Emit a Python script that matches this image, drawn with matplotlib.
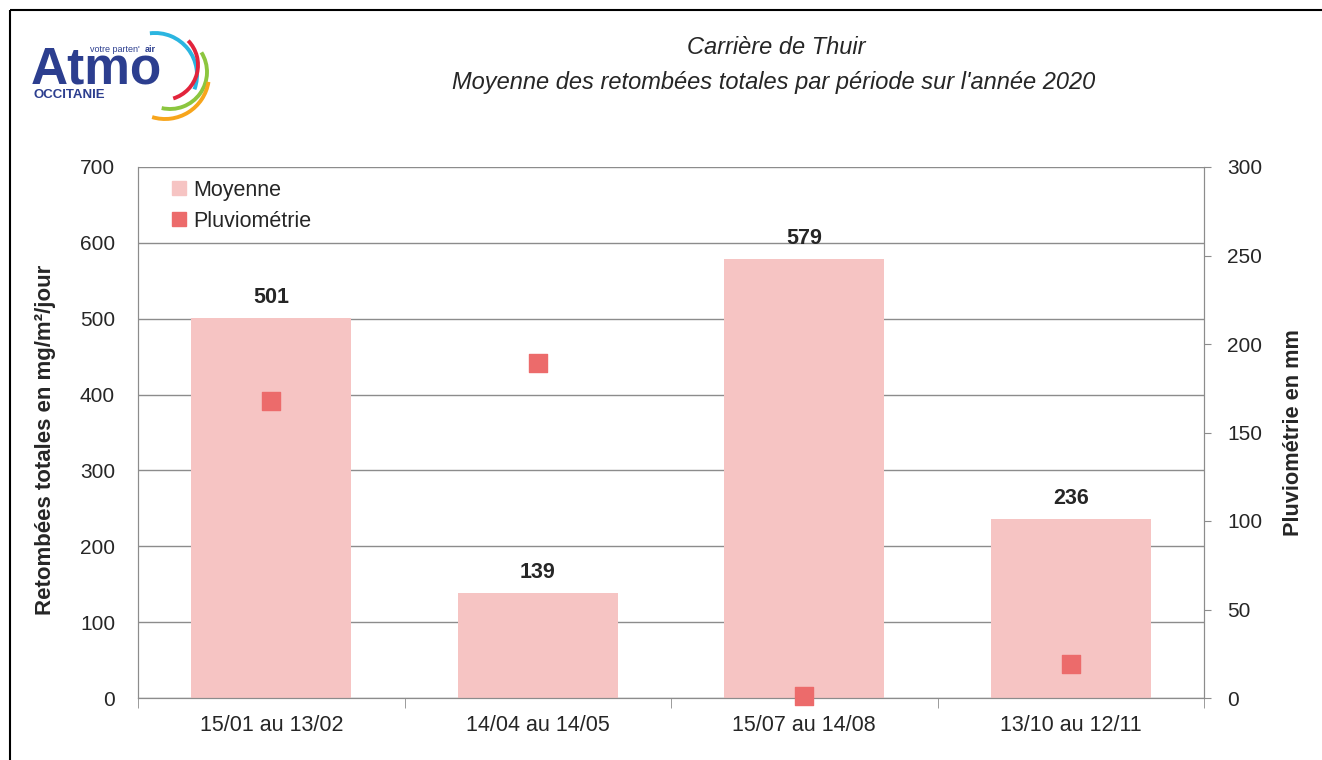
import matplotlib.pyplot as plt
from matplotlib.patches import Arc, Rectangle
from matplotlib.lines import Line2D
import numpy as np

periodes = ["15/01 au 13/02", "14/04 au 14/05", "15/07 au 14/08", "13/10 au 12/11"]
moyenne = [501, 139, 579, 236]
pluvio = [168, 189, 1, 19]

bar_color = "#f6c4c3"
pt_color = "#ec6b6b"
grid_color = "#8c8c8c"
txt = "#262626"

plt.rcParams['font.family'] = ['Liberation Sans', 'DejaVu Sans']

fig = plt.figure(figsize=(13.22, 7.6), dpi=100)
ax = fig.add_axes([138 / 1322, 1 - 698 / 760, (1204 - 138) / 1322, (698 - 167) / 760])
ax2 = ax.twinx()

x = np.arange(len(periodes))
ax.bar(x, moyenne, width=0.6, color=bar_color, zorder=2)
for xi, v in zip(x, moyenne):
    ax.text(xi, v + 13, str(v), ha="center", va="bottom", fontsize=15.5,
            fontweight="bold", color=txt)

ax2.scatter(x, pluvio, marker="s", s=150, color=pt_color, zorder=3, clip_on=False)

ax.set_xlim(-0.5, len(periodes) - 0.5)
ax.set_ylim(0, 700)
ax.set_yticks(range(0, 701, 100))
ax2.set_ylim(0, 300)
ax2.set_yticks(range(0, 301, 50))

ax.yaxis.grid(True, color=grid_color, linewidth=1)
ax.set_axisbelow(True)
ax.set_xticks(x)
ax.set_xticklabels(periodes)
ax.set_xticks(np.arange(-0.5, len(periodes)), minor=True)
ax.tick_params(axis="x", which="major", length=0, pad=12, labelsize=15.5, labelcolor=txt)
ax.tick_params(axis="x", which="minor", length=7, color=grid_color, direction="out")
ax.tick_params(axis="y", length=0, pad=16.5, labelsize=15, labelcolor=txt)
ax2.tick_params(axis="y", length=5, color=grid_color, pad=11.5, labelsize=15, labelcolor=txt)

for a in (ax, ax2):
    a.spines["top"].set_visible(False)
    for s in ("left", "right", "bottom"):
        a.spines[s].set_color(grid_color)

ax.set_ylabel("Retombées totales en mg/m²/jour", fontsize=16, fontweight="bold",
              color=txt, labelpad=17)
ax.yaxis.label.set_y(0.486)
ax2.set_ylabel("Pluviométrie en mm", fontsize=15.7, fontweight="bold", color=txt,
               labelpad=15)

handles = [Line2D([], [], linestyle="none", marker="s", markersize=10.5,
                  color=bar_color),
           Line2D([], [], linestyle="none", marker="s", markersize=10.5,
                  color=pt_color)]
leg = ax.legend(handles, ["Moyenne", "Pluviométrie"], loc="upper left",
                bbox_to_anchor=(0.012, 1.012), frameon=False, fontsize=15.5,
                handlelength=0.8, handletextpad=0.25, labelspacing=0.45)
for t in leg.get_texts():
    t.set_color(txt)

fig.text(776 / 1322, 1 - 47 / 760, "Carrière de Thuir", ha="center", va="center",
         fontsize=17, style="italic", color=txt)
fig.text(774 / 1322, 1 - 83 / 760,
         "Moyenne des retombées totales par période sur l'année 2020",
         ha="center", va="center", fontsize=17, style="italic", color=txt)

# cadre et logo
ov = fig.add_axes([0, 0, 1, 1], zorder=-1)
ov.set_xlim(0, 1322)
ov.set_ylim(760, 0)
ov.axis("off")
ov.add_patch(Rectangle((10, 10), 1330, 800, fill=False, edgecolor="black", linewidth=1.5))
ov.text(31, 84, "Atmo", fontsize=37, fontweight="bold", color="#2c3e8f", va="baseline")
ov.text(90, 52, "votre parten'", fontsize=6.5, color="#2c3e8f", va="baseline")
ov.text(145, 52, "air", fontsize=6.5, color="#2c3e8f", fontweight="bold", va="baseline")
ov.text(33, 98, "OCCITANIE", fontsize=9.5, fontweight="bold", color="#2c3e8f",
        va="baseline")
arcs = [("#2bb5e0", (155, 75), 42, -20, 97),
        ("#e2243c", (163, 65), 35, -73, 44),
        ("#8cc63f", (170, 72), 37, -103, 32),
        ("#f7a51c", (165, 75), 44, -107, -9)]
for c, ctr, r, t1, t2 in arcs:
    ov.add_patch(Arc(ctr, 2 * r, 2 * r, theta1=-t2, theta2=-t1, color=c, linewidth=2.8))

fig.savefig("out.png", dpi=100)
